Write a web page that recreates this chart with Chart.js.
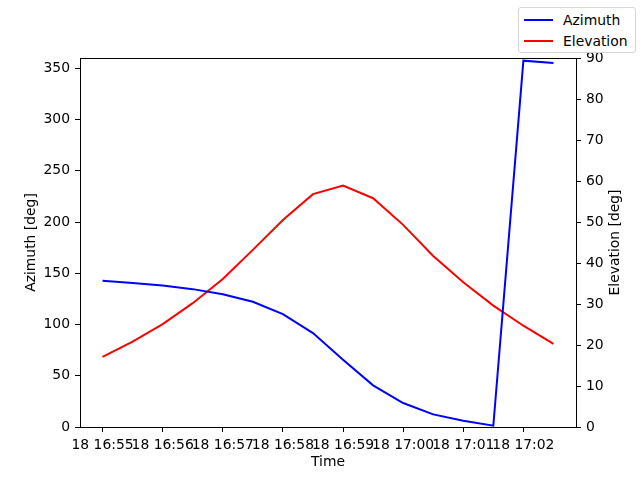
<!DOCTYPE html>
<html>
<head>
<meta charset="utf-8">
<script src="https://cdn.jsdelivr.net/npm/chart.js@4/dist/chart.umd.min.js"></script>
<style>
  html, body { margin: 0; padding: 0; background: #fff; }
  #wrap { position: relative; width: 640px; height: 480px; }
  #legend {
    position: absolute; left: 518px; top: 7px; width: 116px; height: 44px;
    border: 1px solid #d6d6d6; border-radius: 3px; background: #fff;
    font-family: "DejaVu Sans", sans-serif; font-size: 13.9px; color: #000;
  }
  .legend-row { position: absolute; left: 0; height: 16px; line-height: 16px; white-space: nowrap; }
  .legend-line { position: absolute; left: 5px; top: 7px; width: 29px; height: 2px; }
  .legend-text { position: absolute; left: 44px; top: 0; }
</style>
</head>
<body>
<div id="wrap">
  <canvas id="chart" width="640" height="480"></canvas>
  <div id="legend"></div>
</div>
<script>
// samples every 30 s
const times = ["16:55:00", "16:55:30", "16:56:00", "16:56:30", "16:57:00", "16:57:30", "16:58:00", "16:58:30",
  "16:59:00", "16:59:30", "17:00:00", "17:00:30", "17:01:00", "17:01:30", "17:02:00", "17:02:30"];
const azimuth = [142.6, 140.4, 138.0, 134.5, 129.6, 122.2, 110.2, 91.6, 65.6, 40.6, 23.4, 12.3, 6.1, 1.3, 357.4, 355.2];
const elevation = [17.1, 20.8, 25.1, 30.2, 36.1, 43.2, 50.5, 56.8, 58.9, 55.8, 49.3, 41.7, 35.3, 29.6, 24.7, 20.3];

const xTickLabels = ["18 16:55", "18 16:56", "18 16:57", "18 16:58", "18 16:59", "18 17:00", "18 17:01", "18 17:02"];
const azimuthTicks = [0, 50, 100, 150, 200, 250, 300, 350];
const elevationTicks = [0, 10, 20, 30, 40, 50, 60, 70, 80, 90];

const series = [
  { label: "Azimuth", values: azimuth, color: "#0000ff", axis: "y" },
  { label: "Elevation", values: elevation, color: "#ff0000", axis: "y2" }
];

// seconds after the first sample
function toSeconds(hms) {
  const [h, m, s] = hms.split(":").map(Number);
  return h * 3600 + m * 60 + (s || 0);
}
const t0 = toSeconds(times[0]);
const xValues = times.map((t) => toSeconds(t) - t0);
const xTickValues = xTickLabels.map((label) => toSeconds(label.split(" ")[1]) - t0);
const span = xValues[xValues.length - 1] - xValues[0];
const margin = span * 0.05;

const font = { family: "'DejaVu Sans', sans-serif", size: 13.9 };

// box round the plot, plus the right title turned the matplotlib way (bottom to top)
const frame = {
  id: "frame",
  afterDraw(chart) {
    const { ctx, chartArea: a } = chart;
    ctx.save();
    ctx.strokeStyle = "#000";
    ctx.lineWidth = 1;
    ctx.strokeRect(Math.round(a.left) + 0.5, Math.round(a.top) + 0.5, Math.round(a.width), Math.round(a.height));

    const right = chart.options.scales.y2.title;
    ctx.translate(615, (a.top + a.bottom) / 2);
    ctx.rotate(-Math.PI / 2);
    ctx.fillStyle = "#000";
    ctx.font = `${font.size}px ${font.family}`;
    ctx.textAlign = "center";
    ctx.textBaseline = "middle";
    ctx.fillText(right.text, 0, 0);
    ctx.restore();
  }
};

function axisStyle() {
  return {
    grid: { drawOnChartArea: false, drawTicks: true, tickLength: 5, color: "#000", lineWidth: 1 },
    border: { display: true, color: "#000", width: 1 },
    ticks: { color: "#000", font, padding: 5, autoSkip: false, maxRotation: 0, includeBounds: false }
  };
}

const x = axisStyle();
const yLeft = axisStyle();
const yRight = axisStyle();

new Chart(document.querySelector("#chart"), {
  type: "line",
  data: {
    datasets: series.map((s) => ({
      label: s.label,
      data: s.values.map((v, i) => ({ x: xValues[i], y: v })),
      borderColor: s.color,
      backgroundColor: s.color,
      borderWidth: 2,
      pointRadius: 0,
      tension: 0,
      yAxisID: s.axis
    }))
  },
  options: {
    responsive: false,
    animation: false,
    devicePixelRatio: 1,
    layout: { padding: { top: 58, left: 0, right: 0, bottom: 0 } },
    plugins: { legend: { display: false }, tooltip: { enabled: false } },
    scales: {
      x: {
        ...x,
        type: "linear",
        min: xValues[0] - margin,
        max: xValues[xValues.length - 1] + margin,
        afterBuildTicks: (scale) => { scale.ticks = xTickValues.map((value) => ({ value })); },
        afterFit: (scale) => { scale.height = 53; },
        ticks: { ...x.ticks, callback: (value) => xTickLabels[xTickValues.indexOf(value)] },
        title: { display: true, text: "Time", color: "#000", font, padding: { top: 0, bottom: 9 } }
      },
      y: {
        ...yLeft,
        position: "left",
        min: 0,
        max: 360,
        afterBuildTicks: (scale) => { scale.ticks = azimuthTicks.map((value) => ({ value })); },
        afterFit: (scale) => { scale.width = 80; },
        title: { display: true, text: "Azimuth [deg]", color: "#000", font, padding: { top: 23, bottom: 0 } }
      },
      y2: {
        ...yRight,
        position: "right",
        min: 0,
        max: 90,
        afterBuildTicks: (scale) => { scale.ticks = elevationTicks.map((value) => ({ value })); },
        afterFit: (scale) => { scale.width = 64; },
        title: { display: false, text: "Elevation [deg]" }
      }
    }
  },
  plugins: [frame]
});

document.querySelector("#legend").innerHTML = series
  .map((s, i) => `
    <div class="legend-row" style="top: ${4 + i * 21}px">
      <span class="legend-line" style="background: ${s.color}"></span>
      <span class="legend-text">${s.label}</span>
    </div>
  `)
  .join("");
</script>
</body>
</html>
